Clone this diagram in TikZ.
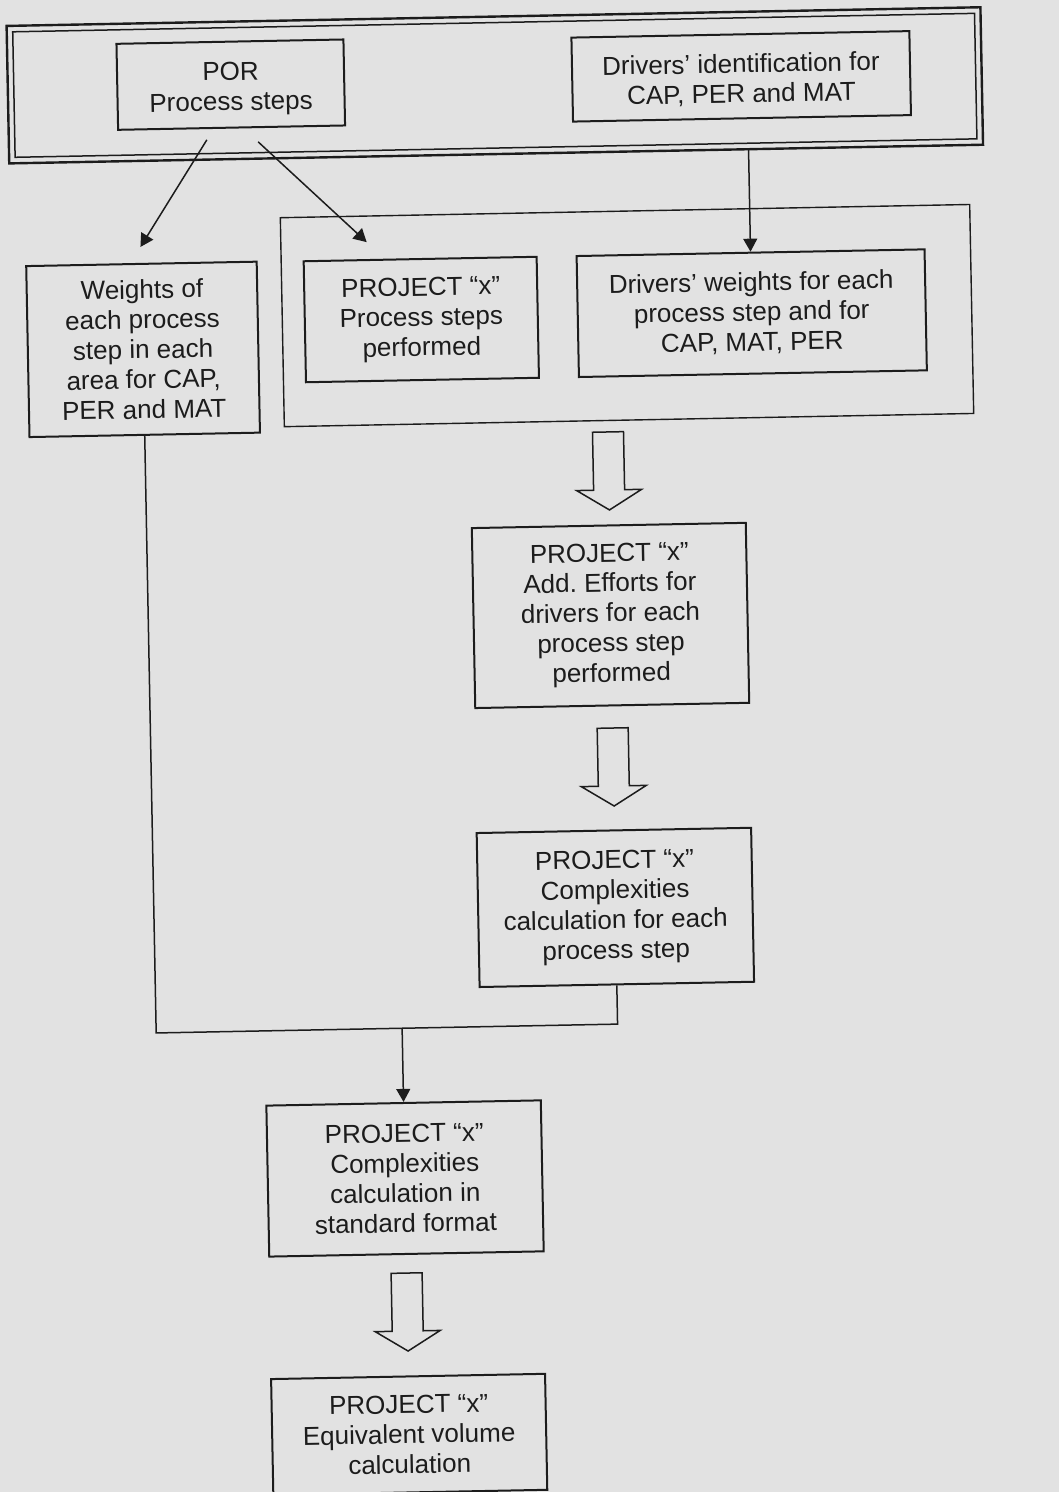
\documentclass[tikz,border=0pt]{standalone}
\usepackage{fontspec}
\setmainfont{Liberation Sans}
\usetikzlibrary{arrows.meta}
\definecolor{bg}{HTML}{E2E2E2}
\definecolor{ink}{HTML}{1C1C1C}
\frenchspacing
\newcommand{\dnstrut}[1]{\rule{0pt}{#1pt}}
\begin{document}
\begin{tikzpicture}[x=1pt,y=-1pt,
  box/.style={draw=ink, line width=2pt, align=center, inner sep=0pt,
    font=\fontsize{26}{30}\selectfont, text=ink},
  frameouter/.style={draw=ink, line width=2.4pt, inner sep=0pt},
  frameinner/.style={draw=ink, line width=1.5pt, inner sep=0pt},
  contbox/.style={draw=ink, line width=1.4pt, inner sep=0pt},
  conn/.style={draw=ink, line width=1.5pt},
  arr/.style={conn, -{Triangle[length=13pt,width=14pt]}},
  harrow/.pic={\draw[ink, line width=1.5pt, line join=miter]
     (-15.5,0) -- (-15.5,58) -- (-32.5,58) -- (0,78) -- (32.5,58) -- (15.5,58) -- (15.5,0) -- cycle;}
]
\fill[bg] (0,0) rectangle (1059,1492);
\useasboundingbox (0,0) rectangle (1059,1492);
\begin{scope}[rotate around={1.1:(530,746)}, transform shape]
  % top double frame
  \node[frameouter, minimum width=974, minimum height=137.5] (frame) at (507.5,84.75) {};
  \node[frameinner, minimum width=962, minimum height=125.5] (framein) at (507.5,84.75) {};
  \node[box, minimum width=227, minimum height=86] (por) at (243.5,79) {\dnstrut{27}POR\\Process steps};
  \node[box, minimum width=338, minimum height=84] (drvid) at (754,80.5) {\dnstrut{26}Drivers’ identification for\\CAP, PER and MAT};
  % container
  \node[contbox, minimum width=689.5, minimum height=209] (cont) at (635.25,317.5) {};
  \node[box, minimum width=230.5, minimum height=171] (wts) at (150.75,342)
    {Weights of\\each process\\step in each\\area for CAP,\\PER and MAT};
  \node[box, minimum width=233, minimum height=121] (proj) at (429.5,317.5)
    {PROJECT “x”\\Process steps\\performed};
  \node[box, minimum width=348, minimum height=121] (dw) at (760,317.5)
    {Drivers’ weights for each\\process step and for\\CAP, MAT, PER};
  \node[box, minimum width=274, minimum height=180] (add) at (613,617)
    {PROJECT “x”\\Add. Efforts for\\drivers for each\\process step\\performed};
  \node[box, minimum width=274.5, minimum height=154] (cplx) at (612.25,909)
    {PROJECT “x”\\Complexities\\calculation for each\\process step};
  \node[box, minimum width=274.5, minimum height=151] (std) at (396.75,1176)
    {PROJECT “x”\\Complexities\\calculation in\\standard format};
  \node[box, minimum width=274, minimum height=116] (eqv) at (396,1432)
    {PROJECT “x”\\Equivalent volume\\calculation};
  % connectors
  \draw[arr, shorten <=12.8pt, shorten >=19pt] ([xshift=-18pt]por.south) -- ([xshift=-11pt]wts.north);
  \draw[arr, shorten <=19.8pt, shorten >=24.4pt] ([xshift=12pt]por.south) -- ([xshift=-35.5pt]proj.north);
  \coordinate (fA) at (760,154.5);
  \draw[arr] (fA) -- (dw.north);
  \coordinate (mL) at (150.75,1025.8);
  \coordinate (mR) at (612.25,1025.8);
  \coordinate (mA) at (396.75,1025.8);
  \draw[conn] (wts.south) -- (mL) -- (mR) -- (cplx.south);
  \draw[arr] (mA) -- (std.north);
  % hollow block arrows
  \pic at (614,433.5) {harrow};
  \pic at (613,729.6) {harrow};
  \pic at (396.5,1270.6) {harrow};
\end{scope}
\end{tikzpicture}
\end{document}
